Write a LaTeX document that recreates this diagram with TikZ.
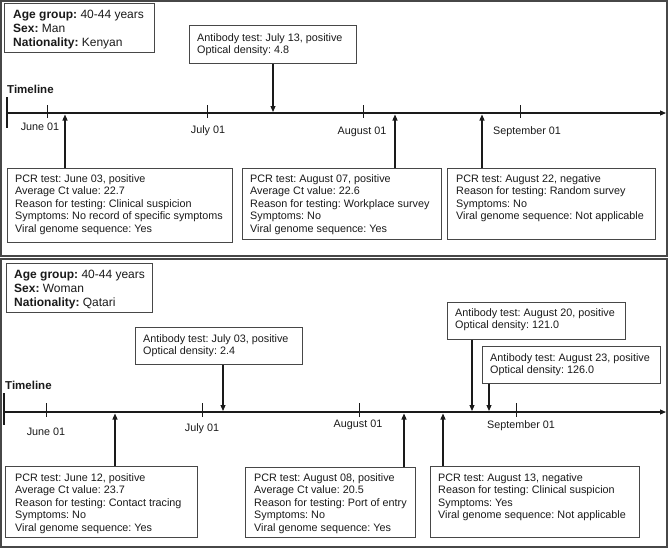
\documentclass[tikz,border=0pt]{standalone}
\usepackage{fontspec}
\setmainfont{Liberation Sans}
\usetikzlibrary{arrows.meta}
\definecolor{ink}{HTML}{1A1A1A}
\definecolor{frame}{HTML}{474747}
\frenchspacing
\begin{document}
\begin{tikzpicture}[x=1pt,y=-1pt,
  box/.style={draw=frame, line width=0.9pt, fill=white, inner sep=0pt, anchor=north west},
  txt/.style={anchor=north west, inner sep=0pt, align=left, font=\fontsize{10.8}{12.6}\selectfont, text=ink},
  abtxt/.style={txt, font=\fontsize{10.8}{12.2}\selectfont},
  info/.style={anchor=north west, inner sep=0pt, align=left, font=\fontsize{12}{14}\selectfont, text=ink},
  lab/.style={anchor=base, inner sep=0pt, font=\fontsize{10.8}{12}\selectfont, text=ink},
  tlab/.style={anchor=base west, inner sep=0pt, font=\bfseries\fontsize{11.5}{13}\selectfont, text=ink},
  arr/.style={draw=ink, line width=1.1pt, -{Triangle[length=6pt,width=5pt]}},
  axis/.style={draw=ink, line width=1.1pt},
  tick/.style={draw=ink, line width=0.9pt},
  panel/.style={draw=frame, line width=1.6pt}]
\useasboundingbox (0,0) rectangle (669,549);

% ---------------- top panel ----------------
\draw[panel] (1,1) rectangle (667,256);
\node[box, minimum width=150pt, minimum height=49pt] (info1) at (4,3) {};
\node[info] (info1t) at (13,9.7) {\textbf{Age group:} 40-44 years\\\textbf{Sex:} Man\\\textbf{Nationality:} Kenyan};

\node[box, minimum width=167pt, minimum height=38pt] (ab1) at (189,25) {};
\node[abtxt] (ab1t) at (197,33) {Antibody test: July 13, positive\\Optical density: 4.8};

\node[tlab] (tl1lab) at (7,93.3) {Timeline};
\coordinate (tl1s) at (7,113);
\coordinate (tl1e) at (666,113);
\draw[axis] (7,97) -- (7,128);
\draw[axis, -{Triangle[length=6pt,width=5pt]}] (tl1s) -- (tl1e);
\foreach \x in {47,207,363,520} \draw[tick] (\x,105) -- (\x,118);
\node[lab] (jun1) at (40,130) {June 01};
\node[lab] (jul1) at (208,133) {July 01};
\node[lab] (aug1) at (362,134) {August 01};
\node[lab] (sep1) at (527,134) {September 01};

\node[box, minimum width=225pt, minimum height=74pt] (p1) at (7,168) {};
\node[txt] (p1t) at (15,174) {PCR test: June 03, positive\\Average Ct value: 22.7\\Reason for testing: Clinical suspicion\\Symptoms: No record of specific symptoms\\Viral genome sequence: Yes};
\node[box, minimum width=199pt, minimum height=71pt] (p2) at (242,168) {};
\node[txt] (p2t) at (250,174) {PCR test: August 07, positive\\Average Ct value: 22.6\\Reason for testing: Workplace survey\\Symptoms: No\\Viral genome sequence: Yes};
\node[box, minimum width=208pt, minimum height=71pt] (p3) at (447,168) {};
\node[txt] (p3t) at (456,174) {PCR test: August 22, negative\\Reason for testing: Random survey\\Symptoms: No\\Viral genome sequence: Not applicable};

\coordinate (a1) at (273,112);
\coordinate (u1) at (65,114.5);
\coordinate (u2) at (395,114.5);
\coordinate (u3) at (482,114.5);
\draw[arr] (ab1.south -| a1) -- (a1);
\draw[arr] (p1.north -| u1) -- (u1);
\draw[arr] (p2.north -| u2) -- (u2);
\draw[arr] (p3.north -| u3) -- (u3);

% ---------------- bottom panel ----------------
\draw[panel] (1,259) rectangle (667,547);
\node[box, minimum width=146pt, minimum height=49pt] (info2) at (6,263) {};
\node[info] (info2t) at (14,269.7) {\textbf{Age group:} 40-44 years\\\textbf{Sex:} Woman\\\textbf{Nationality:} Qatari};

\node[box, minimum width=167pt, minimum height=37pt] (ab2) at (135,327) {};
\node[abtxt] (ab2t) at (143,334) {Antibody test: July 03, positive\\Optical density: 2.4};
\node[box, minimum width=178pt, minimum height=37pt] (ab3) at (447,302) {};
\node[abtxt] (ab3t) at (455,308) {Antibody test: August 20, positive\\Optical density: 121.0};
\node[box, minimum width=178pt, minimum height=37pt] (ab4) at (482,346) {};
\node[abtxt] (ab4t) at (490,353) {Antibody test: August 23, positive\\Optical density: 126.0};

\node[tlab] (tl2lab) at (5,389.3) {Timeline};
\coordinate (tl2s) at (4,412);
\coordinate (tl2e) at (666,412);
\draw[axis] (4,393) -- (4,425);
\draw[axis, -{Triangle[length=6pt,width=5pt]}] (tl2s) -- (tl2e);
\foreach \x in {46,202,359,516} \draw[tick] (\x,403) -- (\x,417);
\node[lab] (jun2) at (46,435) {June 01};
\node[lab] (jul2) at (202,431) {July 01};
\node[lab] (aug2) at (358,427) {August 01};
\node[lab] (sep2) at (521,428) {September 01};

\node[box, minimum width=192pt, minimum height=71pt] (q1) at (5,466) {};
\node[txt] (q1t) at (15,473) {PCR test: June 12, positive\\Average Ct value: 23.7\\Reason for testing: Contact tracing\\Symptoms: No\\Viral genome sequence: Yes};
\node[box, minimum width=170pt, minimum height=70pt] (q2) at (245,467) {};
\node[txt] (q2t) at (254,473) {PCR test: August 08, positive\\Average Ct value: 20.5\\Reason for testing: Port of entry\\Symptoms: No\\Viral genome sequence: Yes};
\node[box, minimum width=209pt, minimum height=71pt] (q3) at (430,466) {};
\node[txt] (q3t) at (438,473) {PCR test: August 13, negative\\Reason for testing: Clinical suspicion\\Symptoms: Yes\\Viral genome sequence: Not applicable};

\coordinate (b1) at (223,411);
\coordinate (b2) at (472,411);
\coordinate (b3) at (489,411);
\coordinate (v1) at (115,413.5);
\coordinate (v2) at (404,413.5);
\coordinate (v3) at (443,413.5);
\draw[arr] (ab2.south -| b1) -- (b1);
\draw[arr] (ab3.south -| b2) -- (b2);
\draw[arr] (ab4.south -| b3) -- (b3);
\draw[arr] (q1.north -| v1) -- (v1);
\draw[arr] (q2.north -| v2) -- (v2);
\draw[arr] (q3.north -| v3) -- (v3);
\end{tikzpicture}
\end{document}
